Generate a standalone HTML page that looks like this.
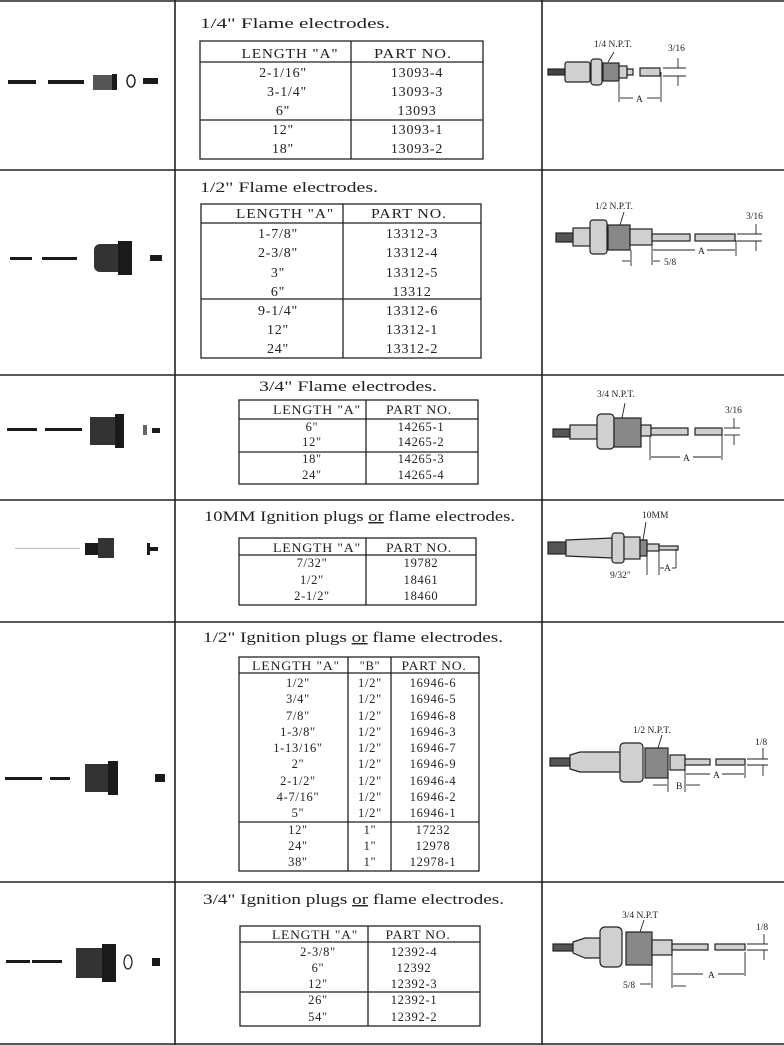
<!DOCTYPE html>
<html><head><meta charset="utf-8"><style>
html,body{margin:0;padding:0;background:#fff}
svg{display:block}
text{font-family:"Liberation Serif",serif;fill:#222}
.t{font-size:14px;letter-spacing:0.8px}
.s{font-size:12.5px;letter-spacing:0.7px}
.d{font-size:9.5px}
.ti{font-size:14.5px}
</style></head><body>
<svg width="784" height="1045" viewBox="0 0 784 1045" xmlns="http://www.w3.org/2000/svg">
<g stroke="#222" stroke-width="1.6" fill="none">
<line x1="175" y1="0" x2="175" y2="1045"/>
<line x1="542" y1="0" x2="542" y2="1045"/>
<line x1="0" y1="1" x2="784" y2="1"/>
<line x1="0" y1="170" x2="784" y2="170"/>
<line x1="0" y1="375" x2="784" y2="375"/>
<line x1="0" y1="500" x2="784" y2="500"/>
<line x1="0" y1="622" x2="784" y2="622"/>
<line x1="0" y1="882" x2="784" y2="882"/>
<line x1="0" y1="1044" x2="784" y2="1044"/>
</g>

<g stroke="#222" stroke-width="1.3" fill="none">
<rect x="200" y="41" width="283" height="118"/><line x1="200" y1="62" x2="483" y2="62"/><line x1="351" y1="41" x2="351" y2="159"/><line x1="200" y1="120" x2="483" y2="120"/>
<rect x="201" y="204" width="280" height="154"/><line x1="201" y1="223" x2="481" y2="223"/><line x1="343" y1="204" x2="343" y2="358"/><line x1="201" y1="299" x2="481" y2="299"/>
<rect x="239" y="400" width="239" height="84"/><line x1="239" y1="419" x2="478" y2="419"/><line x1="366" y1="400" x2="366" y2="484"/><line x1="239" y1="452" x2="478" y2="452"/>
<rect x="239" y="538" width="237" height="67"/><line x1="239" y1="555" x2="476" y2="555"/><line x1="366" y1="538" x2="366" y2="605"/>
<rect x="239" y="657" width="240" height="214"/><line x1="239" y1="673" x2="479" y2="673"/><line x1="348" y1="657" x2="348" y2="871"/><line x1="391" y1="657" x2="391" y2="871"/><line x1="239" y1="822" x2="479" y2="822"/>
<rect x="240" y="926" width="240" height="100"/><line x1="240" y1="942" x2="480" y2="942"/><line x1="368" y1="926" x2="368" y2="1026"/><line x1="240" y1="992" x2="480" y2="992"/>
</g>

<text class="ti" x="200" y="28" textLength="190" lengthAdjust="spacingAndGlyphs">1/4" Flame electrodes.</text>
<text class="ti" x="200" y="192" textLength="178" lengthAdjust="spacingAndGlyphs">1/2" Flame electrodes.</text>
<text class="ti" x="259" y="391" textLength="178" lengthAdjust="spacingAndGlyphs">3/4" Flame electrodes.</text>
<text class="ti" x="204" y="521" textLength="311" lengthAdjust="spacingAndGlyphs">10MM Ignition plugs <tspan text-decoration="underline">or</tspan> flame electrodes.</text>
<text class="ti" x="203" y="642" textLength="300" lengthAdjust="spacingAndGlyphs">1/2" Ignition plugs <tspan text-decoration="underline">or</tspan> flame electrodes.</text>
<text class="ti" x="203" y="904" textLength="301" lengthAdjust="spacingAndGlyphs">3/4" Ignition plugs <tspan text-decoration="underline">or</tspan> flame electrodes.</text>

<g class="t" text-anchor="middle">
<text x="290" y="58" textLength="97" lengthAdjust="spacingAndGlyphs">LENGTH "A"</text><text x="413" y="58" textLength="78" lengthAdjust="spacingAndGlyphs">PART NO.</text>
<text x="283" y="77">2-1/16"</text><text x="417" y="77">13093-4</text>
<text x="287" y="96">3-1/4"</text><text x="417" y="96">13093-3</text>
<text x="283" y="115">6"</text><text x="417" y="115">13093</text>
<text x="283" y="134">12"</text><text x="417" y="134">13093-1</text>
<text x="283" y="153">18"</text><text x="417" y="153">13093-2</text>
</g>
<g class="t" text-anchor="middle">
<text x="285" y="218" textLength="98" lengthAdjust="spacingAndGlyphs">LENGTH "A"</text><text x="409" y="218" textLength="76" lengthAdjust="spacingAndGlyphs">PART NO.</text>
<text x="278" y="238">1-7/8"</text><text x="412" y="238">13312-3</text>
<text x="278" y="257">2-3/8"</text><text x="412" y="257">13312-4</text>
<text x="278" y="277">3"</text><text x="412" y="277">13312-5</text>
<text x="278" y="296">6"</text><text x="412" y="296">13312</text>
<text x="278" y="315">9-1/4"</text><text x="412" y="315">13312-6</text>
<text x="278" y="334">12"</text><text x="412" y="334">13312-1</text>
<text x="278" y="353">24"</text><text x="412" y="353">13312-2</text>
</g>
<g class="s" text-anchor="middle">
<text x="317" y="414" textLength="88" lengthAdjust="spacingAndGlyphs">LENGTH "A"</text><text x="419" y="414" textLength="66" lengthAdjust="spacingAndGlyphs">PART NO.</text>
<text x="312" y="431">6"</text><text x="421" y="431">14265-1</text>
<text x="312" y="446">12"</text><text x="421" y="446">14265-2</text>
<text x="312" y="463">18"</text><text x="421" y="463">14265-3</text>
<text x="312" y="479">24"</text><text x="421" y="479">14265-4</text>
</g>
<g class="s" text-anchor="middle">
<text x="317" y="552" textLength="88" lengthAdjust="spacingAndGlyphs">LENGTH "A"</text><text x="419" y="552" textLength="66" lengthAdjust="spacingAndGlyphs">PART NO.</text>
<text x="312" y="567">7/32"</text><text x="421" y="567">19782</text>
<text x="312" y="584">1/2"</text><text x="421" y="584">18461</text>
<text x="312" y="600">2-1/2"</text><text x="421" y="600">18460</text>
</g>
<g class="s" text-anchor="middle">
<text x="296" y="670" textLength="88" lengthAdjust="spacingAndGlyphs">LENGTH "A"</text><text x="370" y="670">"B"</text><text x="434" y="670" textLength="65" lengthAdjust="spacingAndGlyphs">PART NO.</text>
<text x="298" y="687">1/2"</text><text x="370" y="687">1/2"</text><text x="433" y="687">16946-6</text>
<text x="298" y="703">3/4"</text><text x="370" y="703">1/2"</text><text x="433" y="703">16946-5</text>
<text x="298" y="720">7/8"</text><text x="370" y="720">1/2"</text><text x="433" y="720">16946-8</text>
<text x="298" y="736">1-3/8"</text><text x="370" y="736">1/2"</text><text x="433" y="736">16946-3</text>
<text x="298" y="752">1-13/16"</text><text x="370" y="752">1/2"</text><text x="433" y="752">16946-7</text>
<text x="298" y="768">2"</text><text x="370" y="768">1/2"</text><text x="433" y="768">16946-9</text>
<text x="298" y="785">2-1/2"</text><text x="370" y="785">1/2"</text><text x="433" y="785">16946-4</text>
<text x="298" y="801">4-7/16"</text><text x="370" y="801">1/2"</text><text x="433" y="801">16946-2</text>
<text x="298" y="817">5"</text><text x="370" y="817">1/2"</text><text x="433" y="817">16946-1</text>
<text x="298" y="834">12"</text><text x="370" y="834">1"</text><text x="433" y="834">17232</text>
<text x="298" y="850">24"</text><text x="370" y="850">1"</text><text x="433" y="850">12978</text>
<text x="298" y="866">38"</text><text x="370" y="866">1"</text><text x="433" y="866">12978-1</text>
</g>
<g class="s" text-anchor="middle">
<text x="315" y="939" textLength="86" lengthAdjust="spacingAndGlyphs">LENGTH "A"</text><text x="418" y="939" textLength="65" lengthAdjust="spacingAndGlyphs">PART NO.</text>
<text x="318" y="956">2-3/8"</text><text x="414" y="956">12392-4</text>
<text x="318" y="972">6"</text><text x="414" y="972">12392</text>
<text x="318" y="988">12"</text><text x="414" y="988">12392-3</text>
<text x="318" y="1004">26"</text><text x="414" y="1004">12392-1</text>
<text x="318" y="1021">54"</text><text x="414" y="1021">12392-2</text>
</g>

<g fill="#1a1a1a">
<rect x="8" y="80" width="28" height="4"/><rect x="48" y="80" width="36" height="4"/>
<rect x="93" y="75" width="22" height="15" fill="#555"/><rect x="112" y="74" width="5" height="16"/>
<ellipse cx="131" cy="81" rx="4" ry="6" fill="none" stroke="#222" stroke-width="1.5"/><rect x="143" y="78" width="15" height="6"/>
<rect x="10" y="257" width="22" height="3"/><rect x="42" y="257" width="35" height="3"/>
<rect x="94" y="244" width="34" height="28" rx="6" fill="#333"/><rect x="118" y="241" width="14" height="34"/><rect x="150" y="255" width="12" height="6"/>
<rect x="7" y="428" width="30" height="3"/><rect x="45" y="428" width="37" height="3"/>
<rect x="90" y="417" width="25" height="28" fill="#333"/><rect x="115" y="414" width="9" height="34"/><rect x="143" y="425" width="4" height="10" fill="#666"/><rect x="152" y="428" width="8" height="5"/>
<rect x="15" y="548" width="65" height="1" fill="#bbb"/>
<rect x="85" y="543" width="14" height="12"/><rect x="98" y="538" width="16" height="20" fill="#333"/><rect x="147" y="543" width="3" height="12"/><rect x="150" y="547" width="8" height="4"/>
<rect x="5" y="777" width="37" height="3"/><rect x="50" y="777" width="20" height="3"/>
<rect x="85" y="764" width="25" height="28" fill="#333"/><rect x="108" y="761" width="10" height="34"/><rect x="155" y="774" width="10" height="8"/>
<rect x="6" y="960" width="24" height="3"/><rect x="32" y="960" width="30" height="3"/>
<rect x="76" y="948" width="30" height="30" fill="#333"/><rect x="102" y="944" width="14" height="38"/><ellipse cx="128" cy="962" rx="4" ry="7" fill="none" stroke="#222" stroke-width="1.3"/><rect x="152" y="958" width="8" height="8"/>
</g>

<g stroke="#222" stroke-width="1.2" fill="#d0d0d0">
<rect x="548" y="69" width="17" height="6" fill="#444"/><rect x="565" y="62" width="25" height="20" rx="2"/><rect x="591" y="59" width="11" height="26" rx="3"/><rect x="603" y="63" width="16" height="18" fill="#888"/><rect x="619" y="66" width="8" height="12"/><rect x="627" y="69" width="6" height="6"/><rect x="640" y="68" width="20" height="8"/>
<rect x="556" y="233" width="17" height="9" fill="#555"/><rect x="573" y="228" width="17" height="18"/><rect x="590" y="220" width="17" height="34" rx="3"/><rect x="608" y="225" width="22" height="25" fill="#888"/><rect x="630" y="229" width="22" height="16"/><rect x="652" y="234" width="38" height="7"/><rect x="695" y="234" width="40" height="7"/>
<rect x="553" y="429" width="17" height="8" fill="#555"/><rect x="570" y="425" width="27" height="14"/><rect x="597" y="414" width="17" height="35" rx="4"/><rect x="614" y="418" width="27" height="29" fill="#888"/><rect x="641" y="425" width="10" height="11"/><rect x="651" y="428" width="37" height="7"/><rect x="695" y="428" width="27" height="7"/>
<rect x="548" y="542" width="18" height="12" fill="#555"/><polygon points="566,540 612,538 612,558 566,556"/><rect x="612" y="533" width="12" height="30" rx="3"/><rect x="624" y="537" width="16" height="22"/><rect x="640" y="540" width="7" height="16" fill="#888"/><rect x="647" y="544" width="12" height="7"/><rect x="659" y="546" width="19" height="4"/>
<rect x="550" y="758" width="20" height="8" fill="#555"/><polygon points="570,755 580,752 620,752 620,772 580,772 570,769"/><rect x="620" y="743" width="23" height="39" rx="4"/><rect x="645" y="748" width="23" height="30" fill="#888"/><rect x="670" y="755" width="15" height="15"/><rect x="685" y="759" width="25" height="6"/><rect x="716" y="759" width="29" height="6"/>
<rect x="553" y="944" width="20" height="7" fill="#555"/><polygon points="573,942 585,938 600,938 600,958 585,958 573,953"/><rect x="600" y="927" width="22" height="40" rx="5"/><rect x="626" y="932" width="26" height="33" fill="#888"/><rect x="652" y="940" width="20" height="15"/><rect x="672" y="944" width="36" height="6"/><rect x="715" y="944" width="30" height="6"/>
</g>
<g stroke="#222" stroke-width="0.9" fill="none">
<line x1="619" y1="82" x2="619" y2="102"/><line x1="661" y1="72" x2="661" y2="102"/><line x1="620" y1="98" x2="633" y2="98"/><line x1="647" y1="98" x2="660" y2="98"/>
<line x1="663" y1="68" x2="686" y2="68"/><line x1="663" y1="76" x2="686" y2="76"/><line x1="678" y1="58" x2="678" y2="68"/><line x1="678" y1="76" x2="678" y2="86"/>
<line x1="608" y1="62" x2="614" y2="52"/>
<line x1="652" y1="245" x2="652" y2="265"/><line x1="736" y1="240" x2="736" y2="256"/><line x1="631" y1="250" x2="631" y2="266"/>
<line x1="653" y1="250" x2="695" y2="250"/><line x1="707" y1="250" x2="735" y2="250"/><line x1="622" y1="261" x2="630" y2="261"/><line x1="653" y1="261" x2="660" y2="261"/>
<line x1="737" y1="234" x2="762" y2="234"/><line x1="737" y1="241" x2="762" y2="241"/><line x1="756" y1="224" x2="756" y2="234"/><line x1="756" y1="241" x2="756" y2="251"/>
<line x1="620" y1="225" x2="624" y2="212"/>
<line x1="650" y1="436" x2="650" y2="460"/><line x1="722" y1="434" x2="722" y2="460"/><line x1="651" y1="457" x2="680" y2="457"/><line x1="693" y1="457" x2="721" y2="457"/>
<line x1="724" y1="428" x2="740" y2="428"/><line x1="724" y1="435" x2="740" y2="435"/><line x1="734" y1="418" x2="734" y2="428"/><line x1="734" y1="435" x2="734" y2="445"/>
<line x1="622" y1="418" x2="625" y2="403"/>
<line x1="647" y1="551" x2="647" y2="575"/><line x1="659" y1="551" x2="659" y2="575"/><line x1="676" y1="549" x2="676" y2="568"/><line x1="660" y1="568" x2="664" y2="568"/><line x1="672" y1="568" x2="676" y2="568"/><line x1="643" y1="540" x2="646" y2="522"/>
<line x1="685" y1="766" x2="685" y2="792"/><line x1="668" y1="778" x2="668" y2="792"/><line x1="745" y1="766" x2="745" y2="778"/>
<line x1="686" y1="774" x2="710" y2="774"/><line x1="722" y1="774" x2="744" y2="774"/><line x1="653" y1="785" x2="667" y2="785"/><line x1="686" y1="785" x2="700" y2="785"/>
<line x1="747" y1="759" x2="768" y2="759"/><line x1="747" y1="765" x2="768" y2="765"/><line x1="763" y1="748" x2="763" y2="759"/><line x1="763" y1="765" x2="763" y2="776"/>
<line x1="658" y1="748" x2="662" y2="735"/>
<line x1="672" y1="955" x2="672" y2="988"/><line x1="652" y1="965" x2="652" y2="988"/><line x1="745" y1="952" x2="745" y2="976"/>
<line x1="673" y1="974" x2="703" y2="974"/><line x1="718" y1="974" x2="744" y2="974"/><line x1="640" y1="984" x2="651" y2="984"/><line x1="673" y1="986" x2="686" y2="986"/>
<line x1="747" y1="944" x2="768" y2="944"/><line x1="747" y1="950" x2="768" y2="950"/><line x1="764" y1="934" x2="764" y2="944"/><line x1="764" y1="950" x2="764" y2="960"/>
<line x1="640" y1="932" x2="644" y2="920"/>
</g>
<g class="d">
<text x="594" y="47">1/4  N.P.T.</text><text x="668" y="51">3/16</text><text x="636" y="102">A</text>
<text x="595" y="209">1/2  N.P.T.</text><text x="746" y="219">3/16</text><text x="698" y="254">A</text><text x="664" y="265">5/8</text>
<text x="597" y="397">3/4  N.P.T.</text><text x="725" y="413">3/16</text><text x="683" y="461">A</text>
<text x="642" y="518">10MM</text><text x="610" y="578">9/32"</text><text x="664" y="571">A</text>
<text x="633" y="733">1/2  N.P.T.</text><text x="755" y="745">1/8</text><text x="713" y="778">A</text><text x="676" y="789">B</text>
<text x="622" y="918">3/4  N.P.T</text><text x="756" y="930">1/8</text><text x="708" y="978">A</text><text x="623" y="988">5/8</text>
</g>
</svg>
</body></html>
